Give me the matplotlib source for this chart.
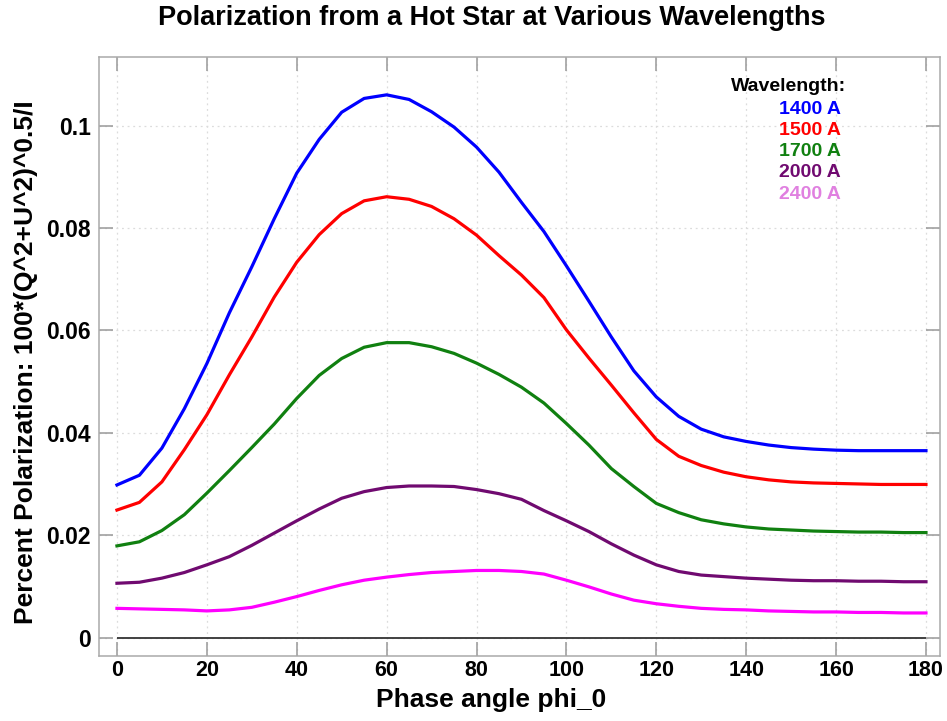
import matplotlib
matplotlib.use("Agg")
import matplotlib.pyplot as plt

plt.rcParams['font.family'] = ['Liberation Sans', 'DejaVu Sans']

phi = list(range(0, 181, 5))

pol_1400 = [0.0298, 0.0317, 0.0370, 0.0447, 0.0535, 0.0634, 0.0724, 0.0818, 0.0907,
            0.0973, 0.1026, 0.1053, 0.1060, 0.1051, 0.1027, 0.0997, 0.0958, 0.0909,
            0.0850, 0.0793, 0.0726, 0.0657, 0.0587, 0.0521, 0.0470, 0.0432, 0.0407,
            0.0392, 0.0383, 0.0376, 0.0371, 0.0368, 0.0366, 0.0365, 0.0365, 0.0365,
            0.0365]
pol_1500 = [0.0249, 0.0264, 0.0304, 0.0367, 0.0435, 0.0513, 0.0587, 0.0665, 0.0733,
            0.0787, 0.0828, 0.0853, 0.0861, 0.0856, 0.0842, 0.0818, 0.0786, 0.0746,
            0.0708, 0.0664, 0.0601, 0.0546, 0.0493, 0.0439, 0.0387, 0.0354, 0.0336,
            0.0323, 0.0314, 0.0308, 0.0304, 0.0302, 0.0301, 0.0300, 0.0299, 0.0299,
            0.0299]
pol_1700 = [0.0179, 0.0187, 0.0209, 0.0240, 0.0282, 0.0326, 0.0371, 0.0417, 0.0467,
            0.0512, 0.0545, 0.0567, 0.0576, 0.0576, 0.0568, 0.0555, 0.0536, 0.0514,
            0.0489, 0.0458, 0.0418, 0.0376, 0.0330, 0.0295, 0.0262, 0.0244, 0.0230,
            0.0222, 0.0216, 0.0212, 0.0210, 0.0208, 0.0207, 0.0206, 0.0206, 0.0205,
            0.0205]
pol_2000 = [0.0106, 0.0108, 0.0116, 0.0127, 0.0142, 0.0158, 0.0180, 0.0204, 0.0228,
            0.0251, 0.0272, 0.0285, 0.0293, 0.0296, 0.0296, 0.0295, 0.0289, 0.0281,
            0.0270, 0.0248, 0.0228, 0.0207, 0.0183, 0.0161, 0.0142, 0.0129, 0.0122,
            0.0119, 0.0116, 0.0114, 0.0112, 0.0111, 0.0111, 0.0110, 0.0110, 0.0109,
            0.0109]
pol_2400 = [0.0057, 0.0056, 0.0055, 0.0054, 0.0052, 0.0054, 0.0059, 0.0069, 0.0080,
            0.0092, 0.0103, 0.0112, 0.0118, 0.0123, 0.0127, 0.0129, 0.0131, 0.0131,
            0.0129, 0.0124, 0.0112, 0.0099, 0.0085, 0.0073, 0.0066, 0.0061, 0.0057,
            0.0055, 0.0054, 0.0052, 0.0051, 0.0050, 0.0050, 0.0049, 0.0049, 0.0048,
            0.0048]

wavelengths = ['1400 A', '1500 A', '1700 A', '2000 A', '2400 A']
line_colors = ['#0000ff', '#ff0000', '#108010', '#700a70', '#ff00ff']
label_colors = ['#0000ff', '#ff0000', '#108010', '#700a70', '#e080e0']
series = [pol_1400, pol_1500, pol_1700, pol_2000, pol_2400]

xticks = [0, 20, 40, 60, 80, 100, 120, 140, 160, 180]
yticks = [0, 0.02, 0.04, 0.06, 0.08, 0.1]
ytick_labels = ['0', '0.02', '0.04', '0.06', '0.08', '0.1']

fig = plt.figure(figsize=(9.47, 7.21), dpi=100)
ax = fig.add_axes([0.1045, 0.0902, 0.888, 0.8308])

for vals, col in zip(series, line_colors):
    ax.plot(phi, vals, color=col, linewidth=2.3, zorder=3)

# zero reference line across the data range
ax.hlines(0, phi[0], phi[-1], color='#333333', linewidth=1.3, zorder=2)

ax.set_xlim(-4, 183.1)
ax.set_ylim(-0.0036, 0.1134)
ax.set_xticks(xticks)
ax.set_yticks(yticks)
ax.set_yticklabels(ytick_labels)

ax.grid(True, linestyle=(0, (1.5, 3)), color='#dcdcdc', linewidth=0.9)
ax.tick_params(axis='both', direction='in', length=10, width=1.1, color='#999999',
               top=True, right=True)
ax.tick_params(axis='x', pad=3, labelsize=15.5)
ax.tick_params(axis='y', pad=6, labelsize=16.5)
for lab in ax.get_xticklabels() + ax.get_yticklabels():
    lab.set_fontweight('bold')
for sp in ax.spines.values():
    sp.set_color('#aaaaaa')
    sp.set_linewidth(1.1)

fig.text(491.5 / 947, 1 - 707 / 721, 'Phase angle phi_0', ha='center', va='baseline',
         fontsize=19, fontweight='bold')
fig.text(26 / 947, 1 - 362.5 / 721, 'Percent Polarization: 100*(Q^2+U^2)^0.5/I',
         rotation=90, ha='center', va='center', fontsize=19, fontweight='bold')
fig.text(492 / 947, 1 - 25 / 721, 'Polarization from a Hot Star at Various Wavelengths',
         ha='center', va='baseline', fontsize=19.5, fontweight='bold')

# wavelength key in the upper right corner
ax.text(0.889, 0.950, 'Wavelength:', transform=ax.transAxes, ha='right', va='center',
        fontsize=14, fontweight='bold', color='black')
for i, (name, col) in enumerate(zip(wavelengths, label_colors)):
    ax.text(0.882, 0.913 - i * 0.0355, name, transform=ax.transAxes, ha='right',
            va='center', fontsize=14, fontweight='bold', color=col)

fig.savefig('out.png', dpi=100)
